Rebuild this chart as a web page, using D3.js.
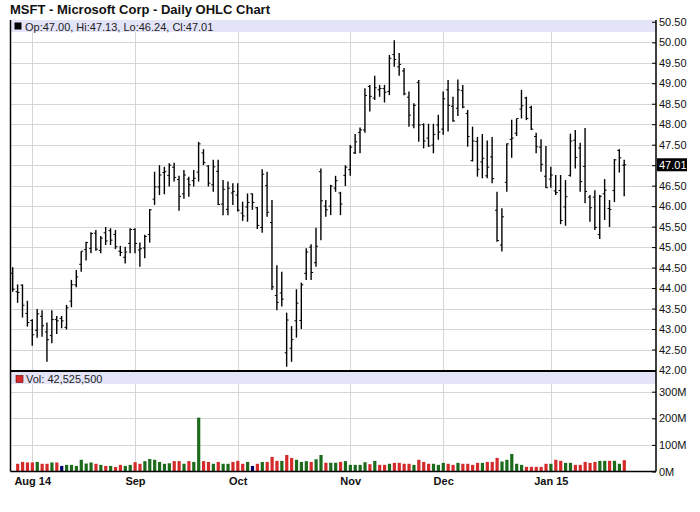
<!DOCTYPE html>
<html>
<head>
<meta charset="utf-8">
<script src="https://cdn.jsdelivr.net/npm/d3@7"></script>
<style>
  body { margin: 0; background: #fff; }
  svg { font-family: "Liberation Sans", Arial, sans-serif; }
</style>
</head>
<body>
<script>
// trading days shown on the chart
var dates = [
  "2014-07-28","2014-07-29","2014-07-30","2014-07-31",
  "2014-08-01","2014-08-04","2014-08-05","2014-08-06","2014-08-07","2014-08-08","2014-08-11","2014-08-12","2014-08-13","2014-08-14","2014-08-15","2014-08-18","2014-08-19","2014-08-20","2014-08-21","2014-08-22","2014-08-25","2014-08-26","2014-08-27","2014-08-28","2014-08-29",
  "2014-09-02","2014-09-03","2014-09-04","2014-09-05","2014-09-08","2014-09-09","2014-09-10","2014-09-11","2014-09-12","2014-09-15","2014-09-16","2014-09-17","2014-09-18","2014-09-19","2014-09-22","2014-09-23","2014-09-24","2014-09-25","2014-09-26","2014-09-29","2014-09-30",
  "2014-10-01","2014-10-02","2014-10-03","2014-10-06","2014-10-07","2014-10-08","2014-10-09","2014-10-10","2014-10-13","2014-10-14","2014-10-15","2014-10-16","2014-10-17","2014-10-20","2014-10-21","2014-10-22","2014-10-23","2014-10-24","2014-10-27","2014-10-28","2014-10-29","2014-10-30","2014-10-31",
  "2014-11-03","2014-11-04","2014-11-05","2014-11-06","2014-11-07","2014-11-10","2014-11-11","2014-11-12","2014-11-13","2014-11-14","2014-11-17","2014-11-18","2014-11-19","2014-11-20","2014-11-21","2014-11-24","2014-11-25","2014-11-26","2014-11-28",
  "2014-12-01","2014-12-02","2014-12-03","2014-12-04","2014-12-05","2014-12-08","2014-12-09","2014-12-10","2014-12-11","2014-12-12","2014-12-15","2014-12-16","2014-12-17","2014-12-18","2014-12-19","2014-12-22","2014-12-23","2014-12-24","2014-12-26","2014-12-29","2014-12-30","2014-12-31",
  "2015-01-02","2015-01-05","2015-01-06","2015-01-07","2015-01-08","2015-01-09","2015-01-12","2015-01-13","2015-01-14","2015-01-15","2015-01-16","2015-01-20","2015-01-21","2015-01-22","2015-01-23","2015-01-26"
]

var opens = [
  44.36,43.91,44.07,43.38,
  43.21,42.97,43.31,42.93,42.84,43.23,43.26,43.04,43.68,44.08,44.58,44.94,44.97,45.34,44.92,45.35,45.40,45.31,44.90,44.75,45.09,
  45.43,44.93,44.98,45.31,46.17,46.47,46.82,46.75,46.95,46.65,46.30,46.66,46.62,46.83,47.30,46.98,46.52,46.85,46.05,45.92,46.32,
  46.27,45.83,45.98,46.30,45.96,45.48,46.50,45.60,43.82,43.88,42.42,42.53,43.20,43.21,44.36,45.00,44.62,46.84,46.00,46.00,46.44,46.32,46.75,
  46.89,47.30,47.80,47.86,48.92,48.64,48.84,48.87,48.80,49.70,49.40,49.30,48.66,47.98,49.02,47.99,47.66,47.49,47.98,
  47.88,48.84,48.44,48.39,48.82,48.26,47.11,47.58,47.08,46.74,47.20,45.90,45.05,46.58,47.63,47.78,48.37,48.64,48.41,47.70,47.44,46.73,
  46.66,46.37,46.38,45.98,46.75,47.61,47.42,46.97,46.22,46.22,45.31,46.30,45.94,46.38,47.36,47.00
]
var highs = [
  44.51,44.09,44.09,43.69,
  43.24,43.49,43.46,43.16,43.46,43.32,43.32,43.59,44.20,44.44,44.90,45.13,45.36,45.42,45.27,45.49,45.46,45.42,45.03,45.01,45.46,
  45.46,45.11,45.30,45.93,46.84,47.00,46.96,47.05,47.06,46.74,46.88,46.72,46.88,47.57,47.39,47.00,47.13,47.13,46.64,46.60,46.56,
  46.56,46.11,46.31,46.31,45.98,46.90,46.84,46.15,44.56,44.40,43.40,43.07,43.97,44.13,44.97,45.07,45.47,46.92,46.15,46.52,46.74,46.35,47.00,
  47.49,47.76,47.92,48.88,48.96,49.18,48.96,48.96,49.69,50.05,49.74,49.37,48.80,48.51,49.08,48.02,48.01,48.01,48.23,
  48.80,49.08,48.67,49.09,48.96,48.35,47.94,47.69,47.76,47.60,47.69,46.35,45.95,47.53,48.11,48.14,48.84,48.67,48.45,47.79,47.63,47.47,
  46.96,46.76,46.76,46.64,47.77,47.86,47.55,47.91,46.27,46.39,46.27,46.66,46.15,47.15,47.39,47.13
]
var lows = [
  43.91,43.64,43.28,43.06,
  42.59,42.79,42.81,42.20,42.65,42.88,43.02,42.99,43.53,44.02,44.40,44.67,44.85,44.91,44.85,45.05,45.05,44.95,44.78,44.60,44.85,
  44.85,44.52,44.73,45.11,46.03,46.27,46.29,46.48,46.60,45.89,46.18,46.23,46.48,46.60,47.00,46.48,46.35,46.03,45.78,45.78,46.03,
  45.87,45.64,45.62,45.91,45.44,45.35,45.74,43.95,43.46,43.55,42.08,42.20,42.79,43.00,44.20,44.20,44.52,45.17,45.74,45.78,46.35,45.78,46.49,
  46.74,47.27,47.29,47.79,48.31,48.59,48.67,48.53,48.71,49.40,49.18,48.71,47.94,47.90,47.57,47.41,47.45,47.29,47.62,
  47.74,47.82,48.06,48.20,48.39,47.45,47.09,46.72,46.68,46.68,46.56,45.13,44.89,46.35,47.18,47.71,48.14,48.10,47.86,47.29,46.84,46.44,
  46.45,46.27,45.56,45.52,46.72,46.92,46.35,46.07,45.62,45.42,45.20,45.66,45.49,46.10,46.82,46.24
]
var closes = [
  43.97,43.89,43.58,43.16,
  42.86,43.37,43.08,42.74,43.23,43.20,43.20,43.52,44.08,44.27,44.90,45.11,45.33,44.95,45.22,45.15,45.17,45.01,44.87,44.88,45.43,
  45.09,44.96,45.26,45.91,46.47,46.76,46.84,47.00,46.70,46.24,46.76,46.52,46.68,47.52,47.06,46.56,46.96,46.04,46.41,46.44,46.36,
  45.90,45.76,46.09,46.09,45.53,46.78,45.85,44.03,43.65,43.73,43.22,42.74,43.63,44.08,44.88,44.38,45.02,46.13,45.91,46.49,46.62,46.05,46.95,
  47.44,47.57,47.86,48.70,48.68,48.89,48.87,48.78,49.61,49.58,49.46,48.74,48.22,48.46,47.98,47.59,47.47,47.75,47.81,
  48.62,48.46,48.08,48.84,48.42,47.70,47.59,46.90,47.17,46.95,46.67,45.16,45.74,47.52,47.66,48.14,48.45,48.14,47.88,47.45,47.02,46.45,
  46.76,46.33,45.65,46.23,47.59,47.19,46.60,46.36,45.96,45.48,46.24,46.39,45.92,47.13,47.18,47.01
]
// volume in millions of shares
var volumes = [
  30,29,36,34,
  34,36,29,29,34,34,21,25,25,21,44,30,34,29,25,21,21,17,25,21,25,
  35,29,39,47,44,36,29,31,39,39,29,39,36,202.5,39,36,29,36,29,29,36,
  40,29,36,21,29,36,36,55,40,40,62,51,44,36,39,36,46,62,33,33,33,36,39,
  25,25,25,35,27.5,40,25,25,29,32.5,32.5,29,29,25,44,36,29,29,25,
  32.5,29,25,32.5,29,29,25,32.5,32.5,36,36,51,37.5,44,66,29,25,17.5,17.5,17.5,17.5,29,
  29,44,40,32.5,32.5,25,25,36,32.5,36,40,40,40,40,29,42.5255
]

var monthLabels = ["Aug 14", "Sep", "Oct", "Nov", "Dec", "Jan 15"]
var priceTicks = d3.range(42, 50.51, 0.5)
var volumeTicks = [0, 100, 200, 300]

var W = 700, H = 512
var left = 10.5, right = 656
var priceTop = 20, priceBottom = 371
var volTop = 372, volBottom = 471.5

var parseDate = d3.timeParse("%Y-%m-%d")
var data = dates.map(function(d, i) {
  return {i: i, date: parseDate(d), o: opens[i], h: highs[i], l: lows[i], c: closes[i], v: volumes[i]}
})

// one slot per trading day
var x = d3.scaleLinear().domain([0, 125]).range([12.7, 624.2])
var y = d3.scaleLinear().domain([42, 50.5]).range([370, 21.8])
var yv = d3.scaleLinear().domain([0, 300]).range([volBottom, 391.7])

// first trading day of every month after the first one
var monthStarts = data.filter(function(d, i) {
  return i > 0 && d.date.getMonth() != data[i - 1].date.getMonth()
}).map(function(d) { return d.i })

var svg = d3.select("body").append("svg")
    .attr("width", W)
    .attr("height", H)

svg.append("rect").attr("width", W).attr("height", H).attr("fill", "#fff")

// title
svg.append("text")
    .attr("x", 10).attr("y", 14)
    .attr("font-size", 13).attr("font-weight", "bold").attr("fill", "#111")
    .text("MSFT - Microsoft Corp - Daily OHLC Chart")

// grid
var grid = svg.append("g")
grid.selectAll(".hp").data(priceTicks.filter(function(t) { return t > 42 && t < 50.5 }))
  .enter().append("line")
    .attr("x1", left).attr("x2", right)
    .attr("y1", function(d) { return Math.round(y(d)) + 0.5 })
    .attr("y2", function(d) { return Math.round(y(d)) + 0.5 })
    .attr("stroke", "#d6d6d6")
grid.selectAll(".hv").data(volumeTicks.filter(function(t) { return t > 0 }))
  .enter().append("line")
    .attr("x1", left).attr("x2", right)
    .attr("y1", function(d) { return Math.round(yv(d)) + 0.5 })
    .attr("y2", function(d) { return Math.round(yv(d)) + 0.5 })
    .attr("stroke", "#d6d6d6")
grid.selectAll(".vv").data(monthStarts)
  .enter().append("line")
    .attr("x1", function(d) { return Math.round(x(d)) + 0.5 })
    .attr("x2", function(d) { return Math.round(x(d)) + 0.5 })
    .attr("y1", priceTop).attr("y2", volBottom)
    .attr("stroke", "#d6d6d6")

// legend bands
var last = data[data.length - 1]
var f2 = d3.format(".2f")
svg.append("rect").attr("x", left).attr("y", priceTop).attr("width", right - left).attr("height", 12)
    .attr("fill", "#e4e4f8")
svg.append("rect").attr("x", 14.5).attr("y", 22.5).attr("width", 7).attr("height", 7).attr("fill", "#000")
svg.append("text").attr("x", 25).attr("y", 30.5).attr("font-size", 11).attr("fill", "#222")
    .text("Op:" + f2(last.o) + ", Hi:" + f2(last.h) + ", Lo:" + f2(last.l) + ", Cl:" + f2(last.c))

svg.append("rect").attr("x", left).attr("y", volTop).attr("width", right - left).attr("height", 12)
    .attr("fill", "#e4e4f8")

// colour of a volume bar: close against previous close
function volColor(d) {
  var prev = data[d.i - 1].c
  if (d.c > prev) return "#1c6a1c"
  if (d.c < prev) return "#d42a2a"
  return "#000066"
}
svg.append("rect").attr("x", 16).attr("y", 375.5).attr("width", 7).attr("height", 7)
    .attr("fill", volColor(last)).attr("stroke", "#600").attr("stroke-width", 0.6)
svg.append("text").attr("x", 26).attr("y", 382.5).attr("font-size", 11).attr("fill", "#222")
    .text("Vol: " + d3.format(",")(Math.round(last.v * 1e6)))

// volume bars (first day has no previous close, so no bar)
svg.append("g").selectAll("rect").data(data.slice(1))
  .enter().append("rect")
    .attr("x", function(d) { return x(d.i) - 1.5 })
    .attr("width", 3.2)
    .attr("y", function(d) { return yv(d.v) })
    .attr("height", function(d) { return volBottom - yv(d.v) })
    .attr("fill", volColor)

// OHLC bars
var bars = svg.append("g").attr("stroke", "#000").attr("stroke-width", 1.4)
bars.selectAll(".hl").data(data).enter().append("line")
    .attr("x1", function(d) { return x(d.i) }).attr("x2", function(d) { return x(d.i) })
    .attr("y1", function(d) { return y(d.h) }).attr("y2", function(d) { return y(d.l) })
bars.selectAll(".op").data(data).enter().append("line")
    .attr("x1", function(d) { return x(d.i) - 2 }).attr("x2", function(d) { return x(d.i) })
    .attr("y1", function(d) { return y(d.o) }).attr("y2", function(d) { return y(d.o) })
    .attr("stroke-width", 1)
bars.selectAll(".cl").data(data).enter().append("line")
    .attr("x1", function(d) { return x(d.i) }).attr("x2", function(d) { return x(d.i) + 2 })
    .attr("y1", function(d) { return y(d.c) }).attr("y2", function(d) { return y(d.c) })
    .attr("stroke-width", 1)

// frame
svg.append("line").attr("x1", left).attr("x2", left).attr("y1", priceTop).attr("y2", volBottom)
    .attr("stroke", "#000").attr("stroke-width", 1.5)
svg.append("line").attr("x1", right).attr("x2", right).attr("y1", priceTop).attr("y2", volBottom)
    .attr("stroke", "#000").attr("stroke-width", 1.5)
svg.append("line").attr("x1", left).attr("x2", right).attr("y1", priceBottom).attr("y2", priceBottom)
    .attr("stroke", "#000").attr("stroke-width", 2)
svg.append("line").attr("x1", left).attr("x2", right).attr("y1", volBottom).attr("y2", volBottom)
    .attr("stroke", "#000").attr("stroke-width", 1.5)

// right axes
var priceAxis = d3.axisRight(y).tickValues(priceTicks).tickSizeInner(-4).tickSizeOuter(0)
    .tickPadding(3).tickFormat(d3.format(".2f"))
var gp = svg.append("g").attr("transform", "translate(" + right + ",0)").call(priceAxis)
var volAxis = d3.axisRight(yv).tickValues(volumeTicks).tickSizeInner(-4).tickSizeOuter(0)
    .tickPadding(3).tickFormat(function(d) { return d + "M" })
var gv = svg.append("g").attr("transform", "translate(" + right + ",0)").call(volAxis)
;[gp, gv].forEach(function(g) {
  g.select(".domain").remove()
  g.selectAll("text").attr("font-size", 11).attr("fill", "#111").attr("font-family", "Liberation Sans, Arial, sans-serif")
  g.selectAll("line").attr("stroke", "#000")
})

// last close marker
var yl = y(last.c)
svg.append("rect").attr("x", 657).attr("y", yl - 6.5).attr("width", 30).attr("height", 13).attr("fill", "#000")
svg.append("text").attr("x", 659).attr("y", yl + 4).attr("font-size", 11).attr("fill", "#fff")
    .text(f2(last.c))

// month axis
var xAxis = d3.axisBottom(x).tickValues(monthStarts).tickSize(0).tickPadding(6)
    .tickFormat(function(d, i) { return monthLabels[i] })
var gx = svg.append("g").attr("transform", "translate(0," + volBottom + ")").call(xAxis)
gx.select(".domain").remove()
gx.selectAll("text").attr("font-size", 11).attr("font-weight", "bold").attr("fill", "#111")
    .attr("font-family", "Liberation Sans, Arial, sans-serif")
</script>
</body>
</html>
